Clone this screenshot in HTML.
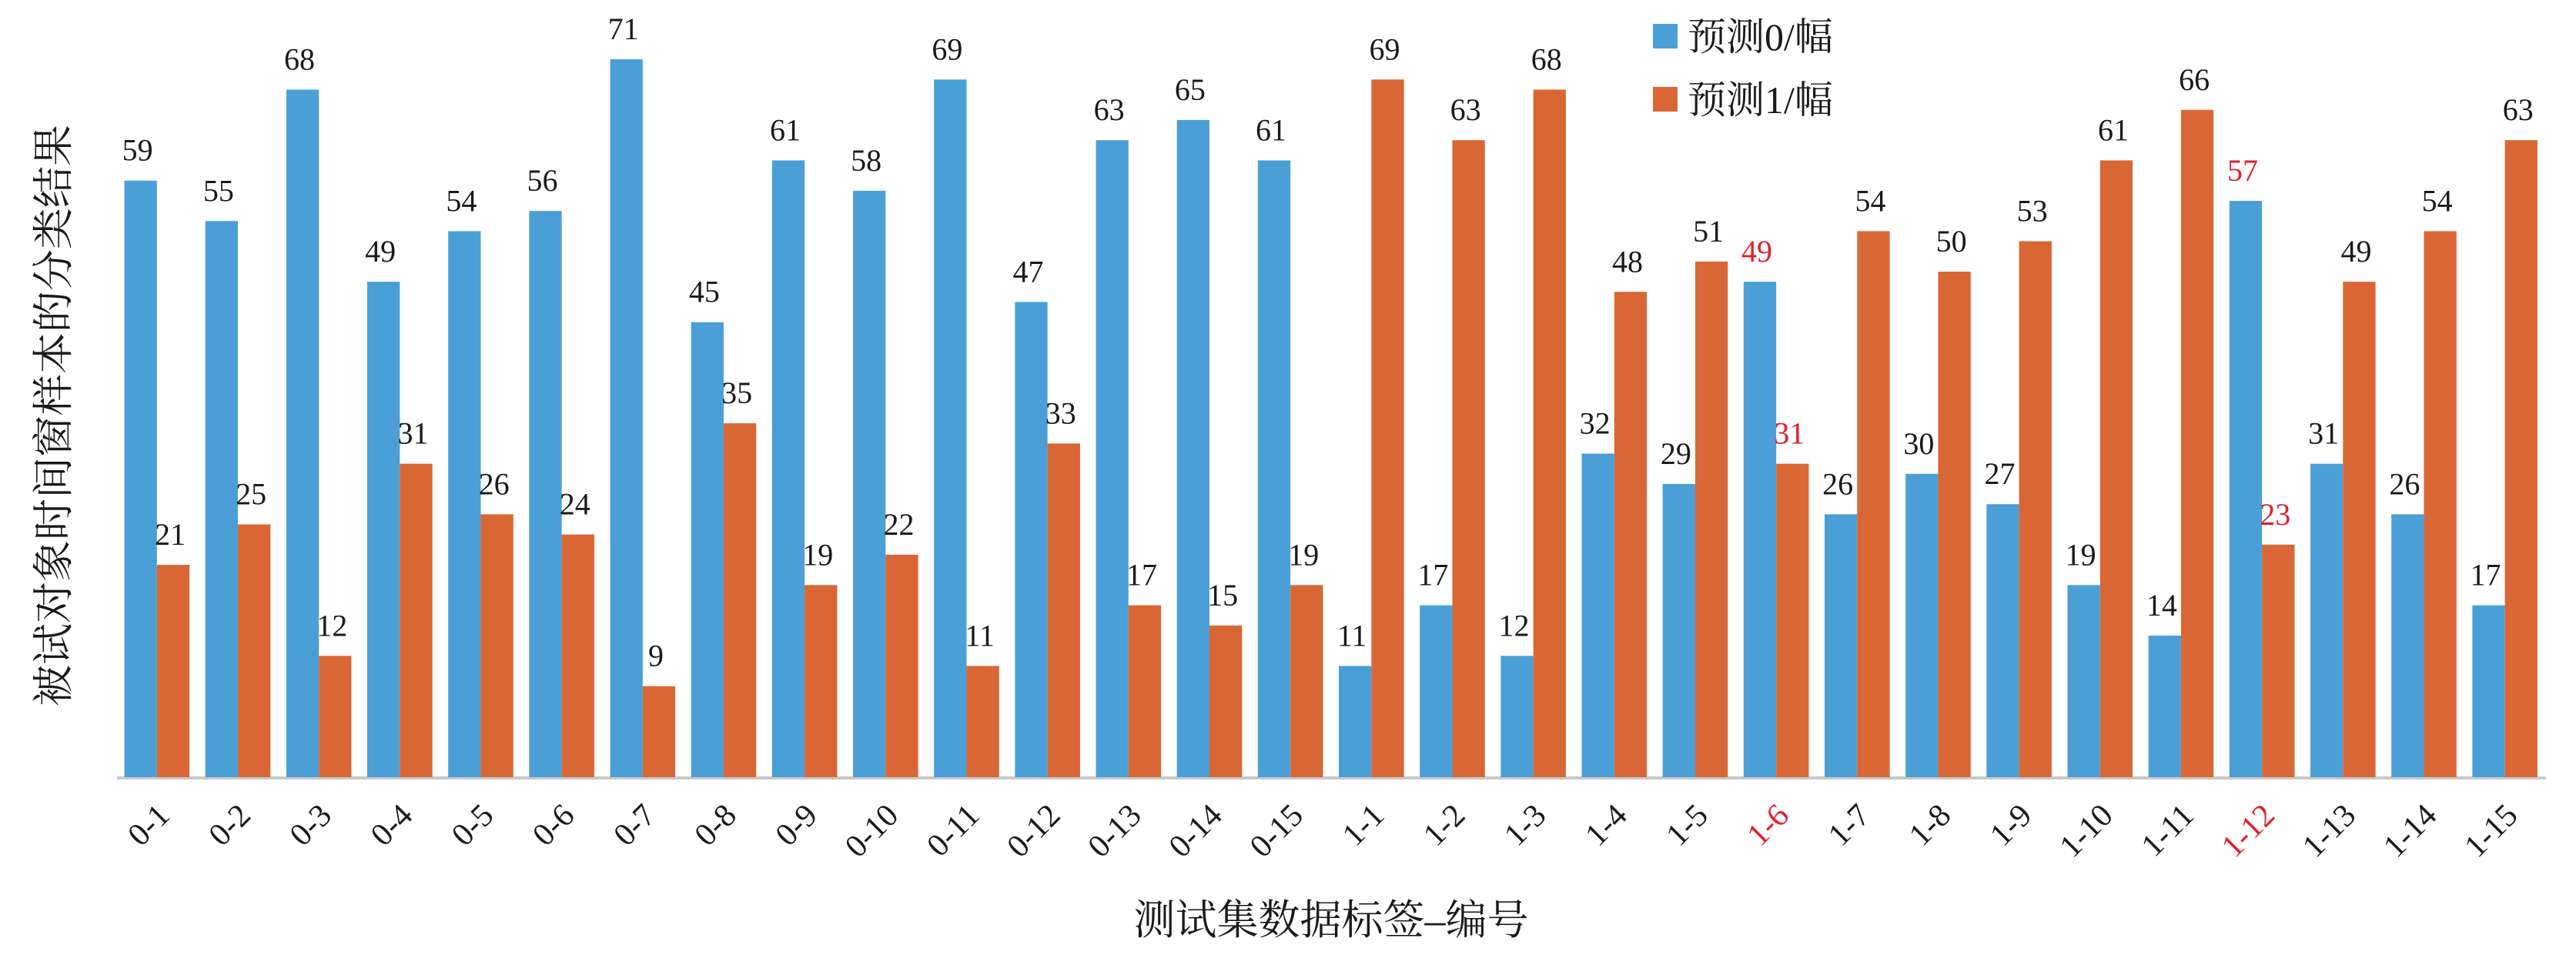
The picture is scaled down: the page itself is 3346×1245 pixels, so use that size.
<!DOCTYPE html>
<html><head><meta charset="utf-8"><style>
html,body{margin:0;padding:0;background:#fff;}
svg text{font-family:"Liberation Serif","Noto Serif CJK SC",serif;fill:#1a1a1a;}
</style></head><body>
<svg id="chart" width="3346" height="1240" viewBox="0 0 3346 1240" xmlns="http://www.w3.org/2000/svg">
<line x1="152" y1="1011" x2="3307" y2="1011" stroke="#c8c8c8" stroke-width="4"/>
<text transform="translate(70,540) rotate(-90)" text-anchor="middle" dominant-baseline="central" font-size="54">被试对象时间窗样本的分类结果</text>
<text x="1729" y="1196" text-anchor="middle" dominant-baseline="central" font-size="54">测试集数据标签–编号</text>
<g>
<rect x="2147" y="31" width="32" height="32" fill="#4AA0D6"/>
<text x="2192" y="48" dominant-baseline="central" font-size="50">预测0/幅</text>
<rect x="2147" y="113" width="32" height="32" fill="#D96735"/>
<text x="2192" y="130" dominant-baseline="central" font-size="50">预测1/幅</text>
</g>
<g id="bars"></g>
</svg>
<script>
const categories = ["0-1","0-2","0-3","0-4","0-5","0-6","0-7","0-8","0-9","0-10","0-11","0-12","0-13","0-14","0-15","1-1","1-2","1-3","1-4","1-5","1-6","1-7","1-8","1-9","1-10","1-11","1-12","1-13","1-14","1-15"];
const pred0 = [59,55,68,49,54,56,71,45,61,58,69,47,63,65,61,11,17,12,32,29,49,26,30,27,19,14,57,31,26,17];
const pred1 = [21,25,12,31,26,24,9,35,19,22,11,33,17,15,19,69,63,68,48,51,31,54,50,53,61,66,23,49,54,63];
const highlighted = ["1-6","1-12"];

const NS = "http://www.w3.org/2000/svg";
const x0 = 152, x1 = 3307, baseY = 1010, pxPerUnit = 13.14;
const band = (x1 - x0) / categories.length;
const barW = 42.3, pad = 9.5;
function xPos(i){ return x0 + i * band; }
function yPos(v){ return baseY - v * pxPerUnit; }
const g = document.getElementById('bars');
function mk(tag, attrs){ const e = document.createElementNS(NS, tag); for (const k in attrs) e.setAttribute(k, attrs[k]); return e; }

categories.forEach((c, i) => {
  const red = highlighted.includes(c);
  const gx = xPos(i);
  const series = [[pred0[i], "#4AA0D6", "pred0"], [pred1[i], "#D96735", "pred1"]];
  series.forEach((s, j) => {
    const bx = gx + pad + j * barW;
    const top = yPos(s[0]);
    const r = mk('rect', {x: bx, y: top, width: barW, height: baseY - top, fill: s[1]});
    
    
    g.appendChild(r);
    const t = mk('text', {x: bx + barW / 2 - 4, y: top - 26, 'text-anchor': 'middle', 'font-size': '40'});
    t.textContent = s[0];
    if (red) t.style.fill = '#e0202a';
    
    
    g.appendChild(t);
  });
  const cx = gx + band / 2 + 18;
  const ly = 1062;
  const lt = mk('text', {x: cx, y: ly, 'text-anchor': 'end', 'font-size': '42', transform: 'rotate(-45 ' + cx + ' ' + ly + ')'});
  lt.textContent = c;
  if (red) lt.style.fill = '#e0202a';
  
  
  g.appendChild(lt);
});
</script>
</body></html>
